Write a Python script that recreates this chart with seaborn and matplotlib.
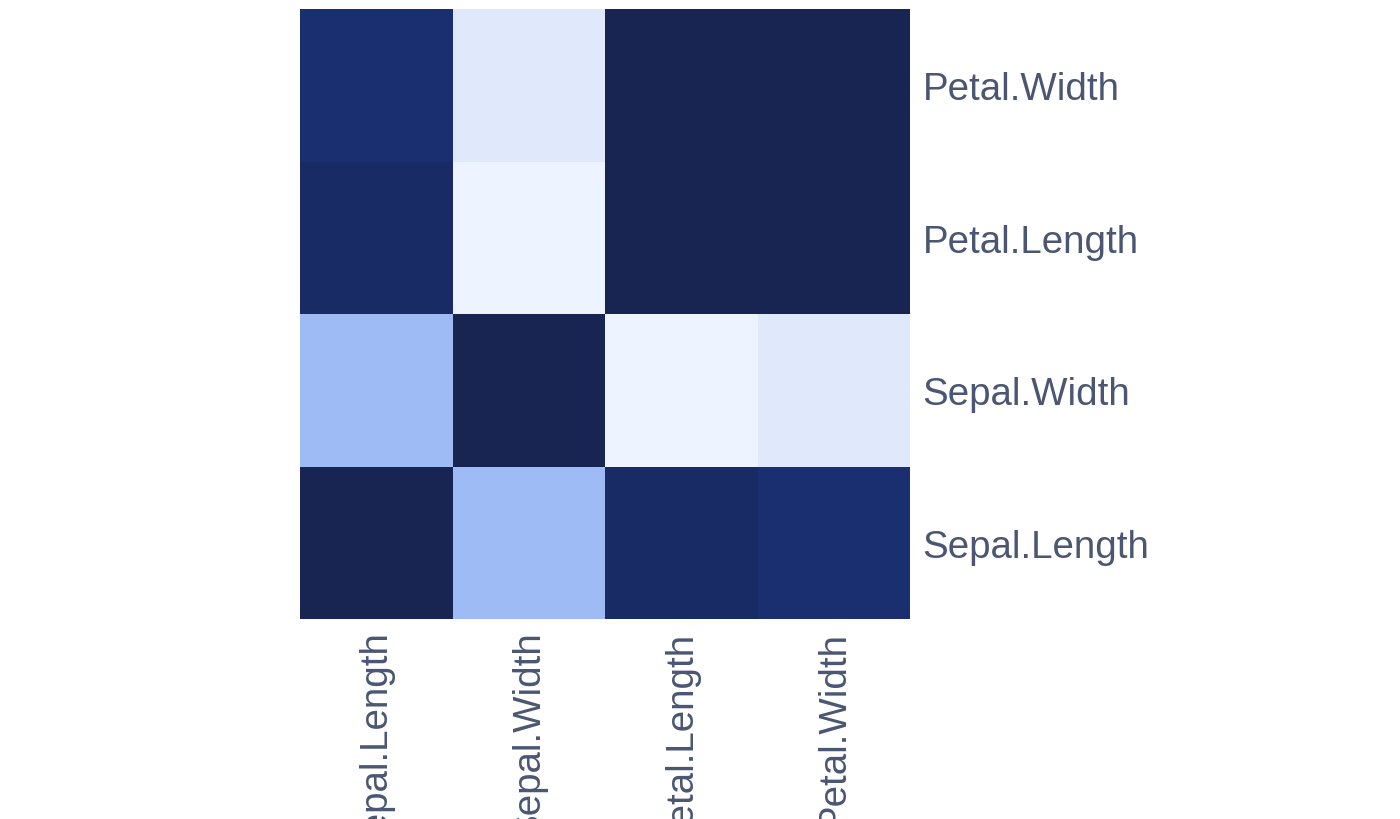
import numpy as np
import pandas as pd
import matplotlib
matplotlib.use("Agg")
import matplotlib.pyplot as plt
import seaborn as sns
from matplotlib.colors import LinearSegmentedColormap

features = ["Sepal.Length", "Sepal.Width", "Petal.Length", "Petal.Width"]

# correlation of the iris measurements, row by row
sepal_length = [1.0, -0.1176, 0.8718, 0.8179]
sepal_width = [-0.1176, 1.0, -0.4284, -0.3661]
petal_length = [0.8718, -0.4284, 1.0, 0.9629]
petal_width = [0.8179, -0.3661, 0.9629, 1.0]

corr = pd.DataFrame([sepal_length, sepal_width, petal_length, petal_width],
                    index=features, columns=features)

# colour stops
stop_values = [-0.4284, -0.3661, -0.1176, 0.8179, 0.8718, 0.9629, 1.0]
stop_colors = ["#edf4ff", "#e0e9fc", "#9dbaf5", "#1a2f70", "#192b66", "#182552", "#182552"]

vmin, vmax = min(stop_values), max(stop_values)
stops = [((v - vmin) / (vmax - vmin), c) for v, c in zip(stop_values, stop_colors)]
cmap = LinearSegmentedColormap.from_list("iris_blues", stops)

sns.set_style("white")
plt.rcParams['font.family'] = ['Liberation Sans', 'DejaVu Sans']
text_color = "#4a5672"

fig = plt.figure(figsize=(14, 8.2), dpi=100)
ax = fig.add_axes([300 / 1400, 200 / 820, 610 / 1400, 610 / 820])

sns.heatmap(corr, cmap=cmap, vmin=vmin, vmax=vmax, cbar=False, square=False,
            linewidths=0, ax=ax)
ax.invert_yaxis()

ax.yaxis.tick_right()
ax.tick_params(axis="both", length=0, labelsize=27.7, labelcolor=text_color)
ax.tick_params(axis="y", pad=9)
ax.tick_params(axis="x", pad=8)
plt.setp(ax.get_yticklabels(), rotation=0, va="center_baseline", ha="left")
plt.setp(ax.get_xticklabels(), rotation=90, ha="center", va="top")
ax.set_xlabel("")
ax.set_ylabel("")
for s in ax.spines.values():
    s.set_visible(False)

fig.savefig("out.png", dpi=100)
